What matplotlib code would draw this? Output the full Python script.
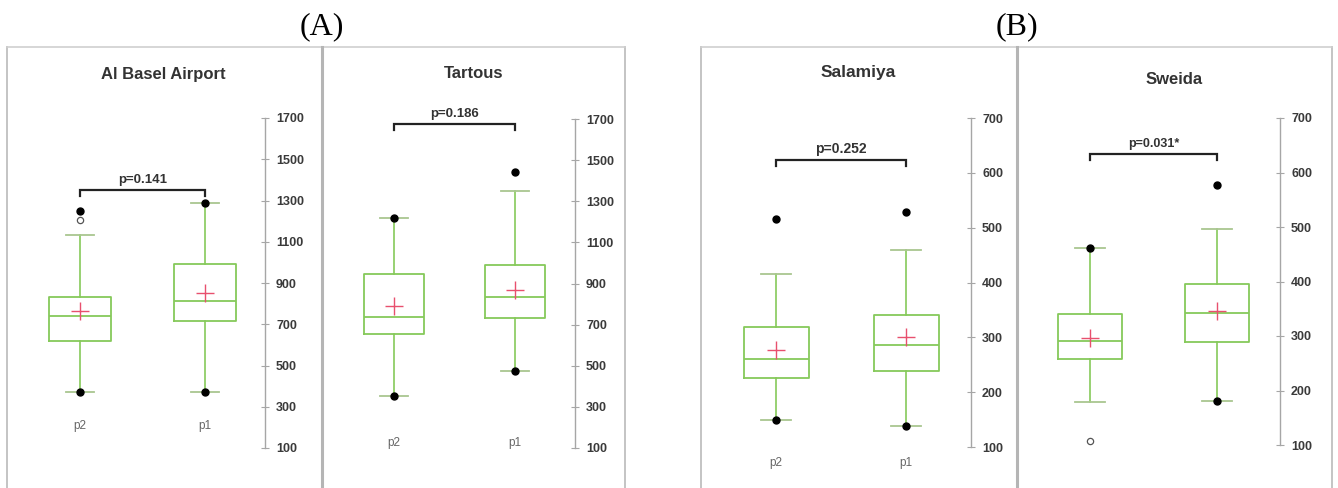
import matplotlib
matplotlib.use("Agg")
import matplotlib.pyplot as plt
from matplotlib.lines import Line2D
import matplotlib.transforms as mtransforms

# ---------------- data ----------------
titles = ["Al Basel Airport", "Tartous", "Salamiya", "Sweida"]
groups = ["p2", "p1"]
show_xlabels = [True, True, True, False]

whislo = [[372, 372], [353, 474], [149, 138], [179, 181]]
q1 = [[619, 716], [654, 733], [225, 238], [258, 289]]
med = [[740, 813], [737, 835], [260, 286], [291, 342]]
q3 = [[832, 992], [946, 990], [318, 341], [340, 395]]
whishi = [[1133, 1288], [1219, 1350], [415, 459], [461, 496]]
means = [[765, 851], [791, 868], [277, 301], [296, 346]]

filled_pts = [[[372, 1249], [372, 1288]],
              [[353, 1219], [474, 1443]],
              [[149, 516], [138, 529]],
              [[461], [181, 577]]]
hollow_pts = [[[1206], []], [[], []], [[], []], [[107], []]]

p_texts = ["p=0.141", "p=0.186", "p=0.252", "p=0.031*"]
bracket_y = [1351, 1675, 623, 634]

yticks_A = [100, 300, 500, 700, 900, 1100, 1300, 1500, 1700]
yticks_B = [100, 200, 300, 400, 500, 600, 700]
yticks = [yticks_A, yticks_A, yticks_B, yticks_B]

headers = ["(A)", "(B)"]

# ---------------- layout (pixels) ----------------
W, H = 1338, 488
frames = [(7, 322), (322, 625), (701, 1017), (1017, 1332)]
axis_x = [265, 575, 971, 1280]
y_top = [118, 119, 118, 118]
y_bot = [448, 448, 447, 445]
cat_px = [(80, 205), (394, 515), (776, 906), (1090, 1217)]
xlabel_y = [426, 443, 463, 463]
title_pos = [(163, 75), (474, 73), (858, 73), (1174, 79)]
title_size = [12, 12, 12.5, 12]
p_size = [9.5, 9.5, 10, 9]
header_pos = [(322, 27), (1017, 27)]
frame_top = 47

fig = plt.figure(figsize=(W / 100, H / 100), dpi=100)
fig.patch.set_facecolor("white")

def fx(x):
    return x / W

def fy(y):
    return 1 - y / H

GREEN = "#86c95a"
CAPC = "#a9c690"
RED = "#e8506e"
GREY = "#a6a6a6"

# frames
for (l, r) in frames:
    fig.add_artist(Line2D([fx(l), fx(l)], [fy(frame_top), 0], color="#c4c4c4", lw=1.4))
    fig.add_artist(Line2D([fx(r), fx(r)], [fy(frame_top), 0], color="#c4c4c4", lw=1.4))
    fig.add_artist(Line2D([fx(l), fx(r)], [fy(frame_top), fy(frame_top)], color="#cfcfcf", lw=1.2))
for xd in (322, 1017):
    fig.add_artist(Line2D([fx(xd), fx(xd)], [fy(frame_top), 0], color="#b5b5b5", lw=2.2))

for hdr, (hx, hy) in zip(headers, header_pos):
    fig.text(fx(hx), fy(hy), hdr, ha="center", va="center",
             family="Liberation Serif", fontsize=23, color="black")

for i in range(4):
    l, r = frames[i]
    ax = fig.add_axes([fx(l + 3), fy(y_bot[i]), fx(axis_x[i] - l - 3),
                       (y_bot[i] - y_top[i]) / H])
    ax.patch.set_alpha(0)
    c0, c1 = cat_px[i]
    scale = c1 - c0
    ax.set_xlim((l + 3 - c0) / scale, (axis_x[i] - c0) / scale)
    ymin, ymax = yticks[i][0], yticks[i][-1]
    ax.set_ylim(ymin, ymax)

    stats = []
    for g in range(2):
        stats.append(dict(med=med[i][g], q1=q1[i][g], q3=q3[i][g],
                          whislo=whislo[i][g], whishi=whishi[i][g],
                          mean=means[i][g], fliers=[], label=groups[g]))
    ax.bxp(stats, positions=[0, 1], widths=0.5, capwidths=0.23,
           showmeans=True, showfliers=False,
           boxprops=dict(color=GREEN, lw=1.3),
           medianprops=dict(color=GREEN, lw=1.3),
           whiskerprops=dict(color=GREEN, lw=1.2),
           capprops=dict(color=CAPC, lw=1.3),
           meanprops=dict(marker="+", markersize=13, markeredgecolor=RED,
                          markeredgewidth=1.0, linestyle="none"))
    for g in range(2):
        if filled_pts[i][g]:
            ax.plot([g] * len(filled_pts[i][g]), filled_pts[i][g], "o",
                    color="black", markersize=5, clip_on=False, zorder=5)
        if hollow_pts[i][g]:
            ax.plot([g] * len(hollow_pts[i][g]), hollow_pts[i][g], "o",
                    mfc="white", mec="#555555", mew=0.9, markersize=4.5,
                    clip_on=False, zorder=5)

    # bracket
    yr = ymax - ymin
    by = bracket_y[i]
    leg = 0.017 * yr
    ax.plot([0, 0, 1, 1], [by - leg, by, by, by - leg], color="#222222",
            lw=1.6, clip_on=False, solid_joinstyle="miter")
    ax.text(0.5, by + 0.012 * yr, p_texts[i], ha="center", va="bottom",
            fontsize=p_size[i], fontweight="bold", color="#333333",
            family="Liberation Sans", clip_on=False)

    for s in ["left", "top", "bottom"]:
        ax.spines[s].set_visible(False)
    ax.spines["right"].set_color(GREY)
    ax.spines["right"].set_linewidth(1.0)
    ax.set_xticks([])
    ax.yaxis.tick_right()
    ax.set_yticks(yticks[i])
    ax.set_yticklabels([str(v) for v in yticks[i]])
    ax.tick_params(axis="y", direction="inout", length=6, width=0.8,
                   colors=GREY, labelcolor="#3a3a3a", labelsize=9, pad=5)
    for lab in ax.get_yticklabels():
        lab.set_family("Liberation Sans")
        lab.set_fontweight("bold")

    if show_xlabels[i]:
        trans = mtransforms.blended_transform_factory(ax.transData, ax.transAxes)
        for g in range(2):
            ax.text(g, (y_bot[i] - xlabel_y[i]) / (y_bot[i] - y_top[i]), groups[g],
                    transform=trans, ha="center", va="center", fontsize=8.5,
                    color="#666666", family="Liberation Sans", clip_on=False)

    tx, ty = title_pos[i]
    fig.text(fx(tx), fy(ty), titles[i], ha="center", va="center",
             fontsize=title_size[i], fontweight="bold", color="#333333",
             family="Liberation Sans")

fig.savefig("out.png", dpi=100, facecolor="white")
